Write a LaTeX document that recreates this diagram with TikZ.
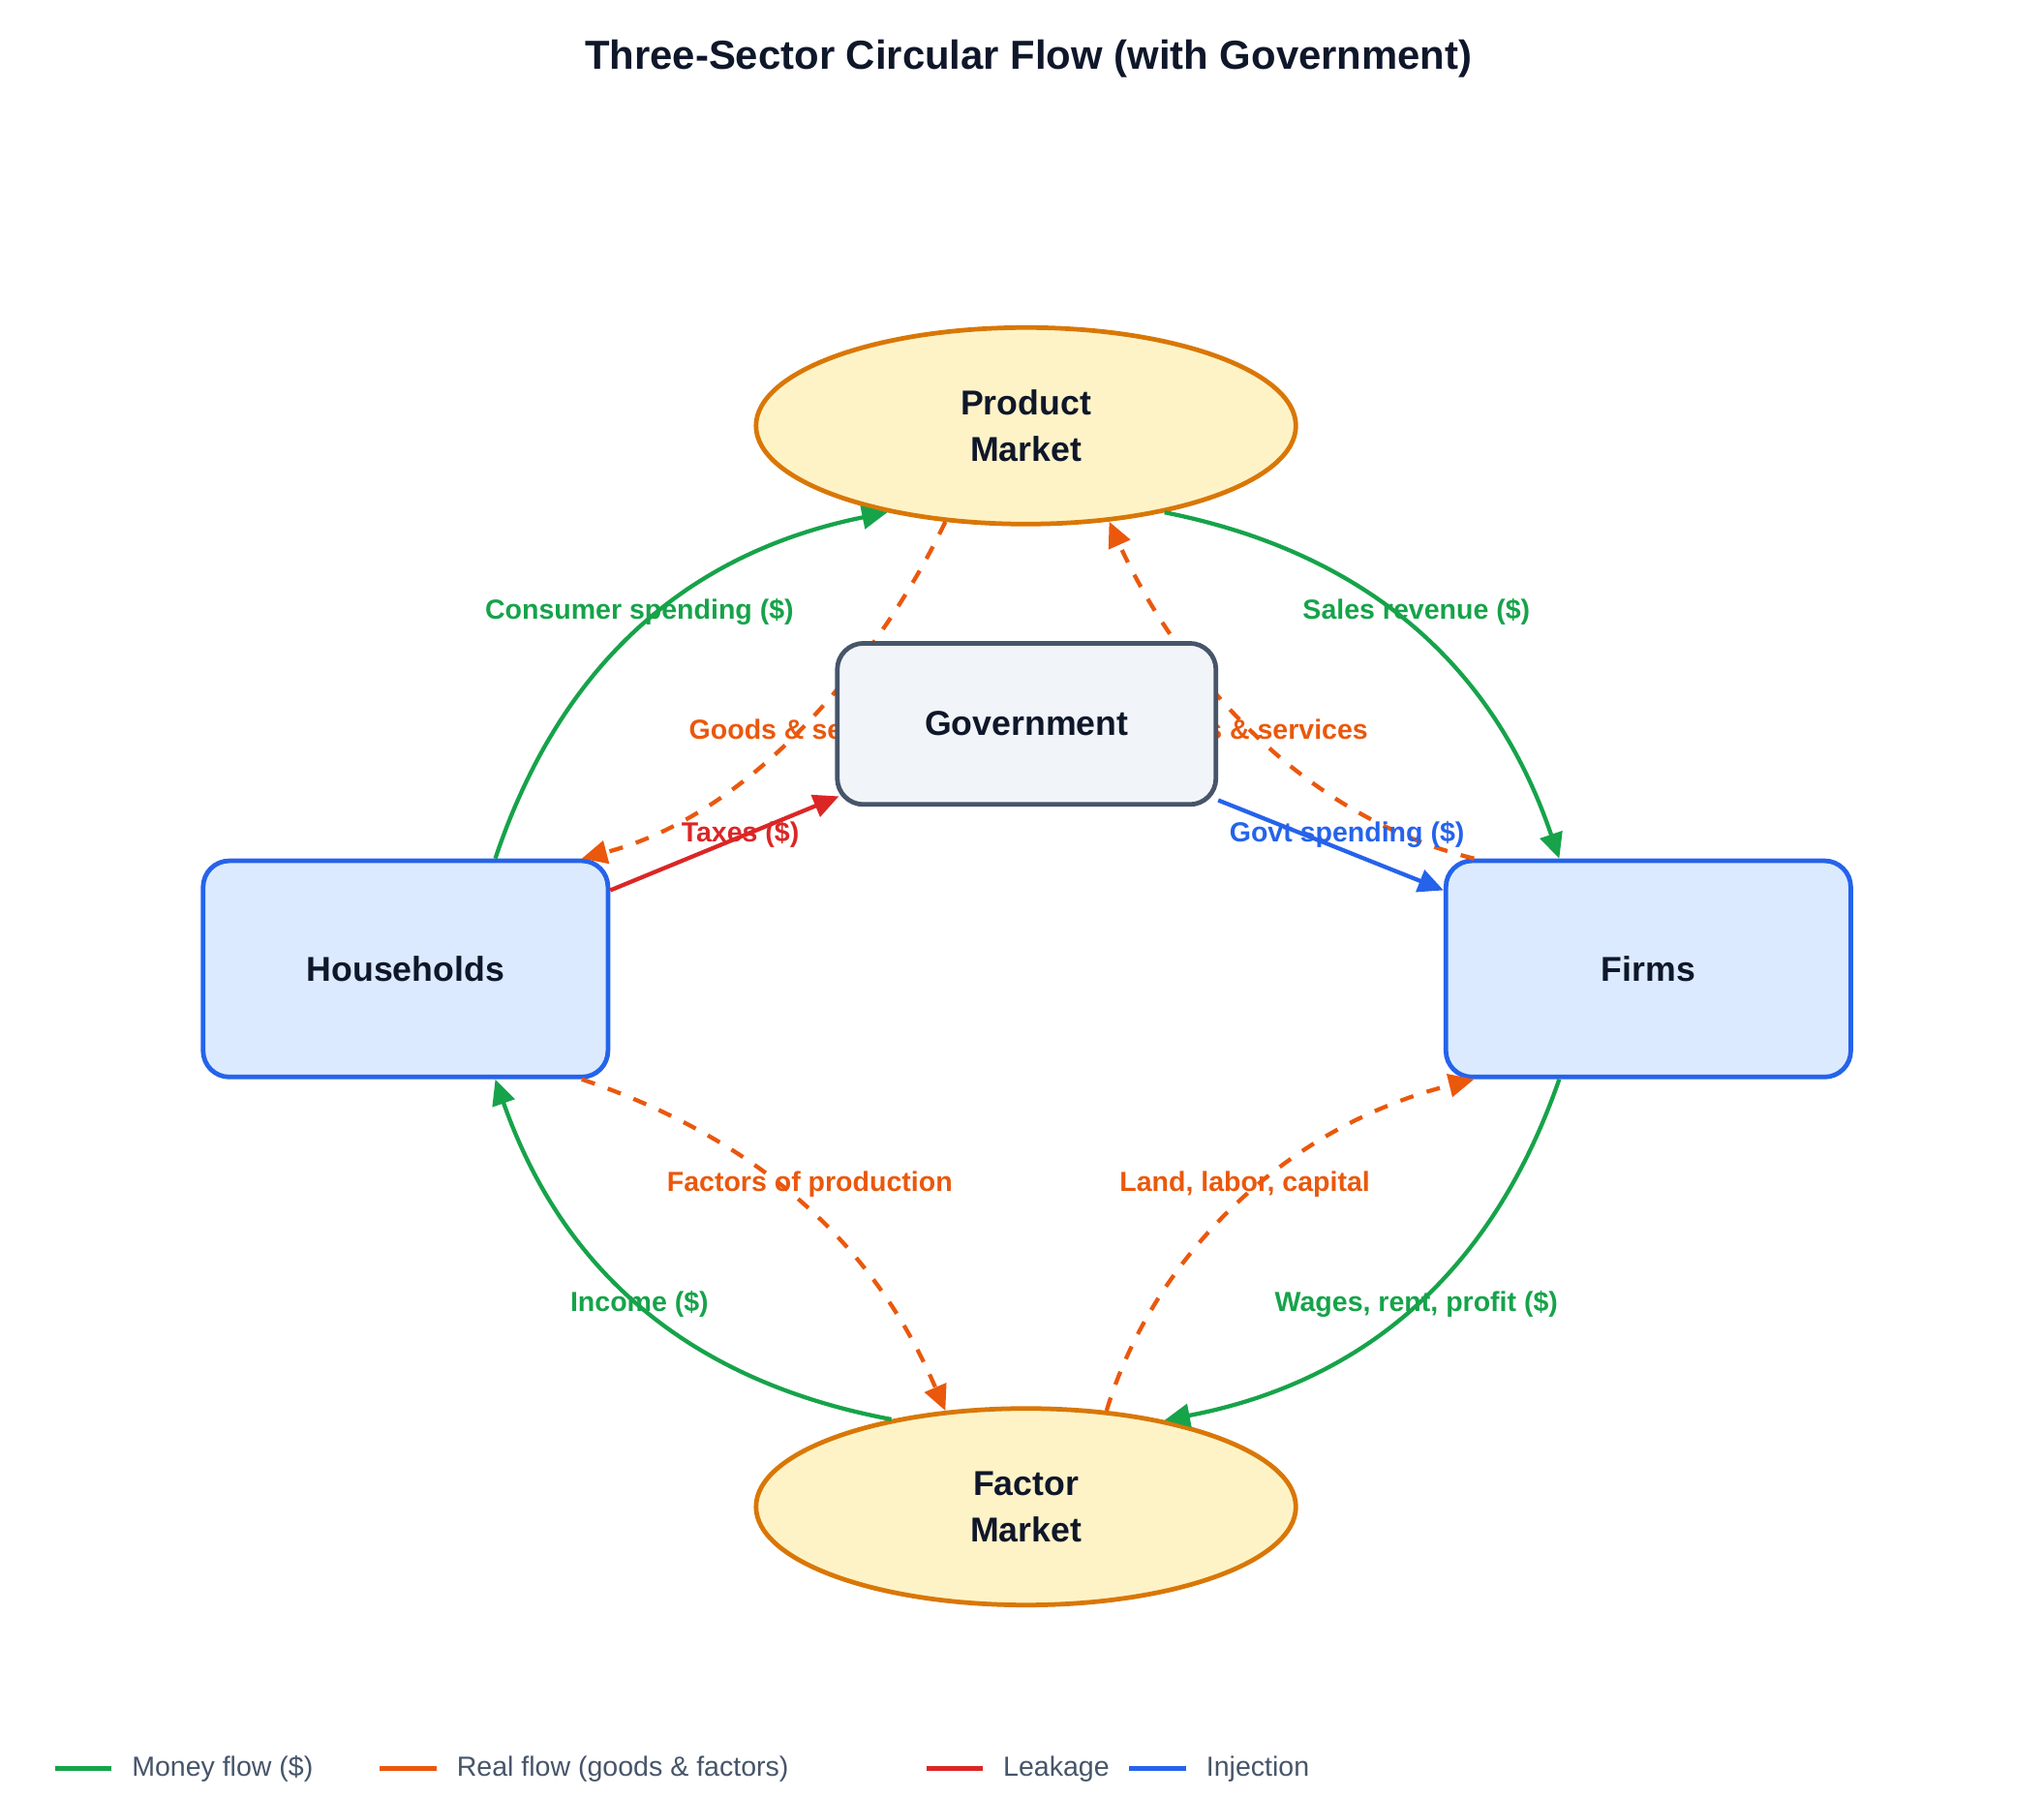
\documentclass[tikz,border=0pt]{standalone}
\usepackage{fontspec}
\setmainfont{Liberation Sans}
\usetikzlibrary{arrows.meta,shapes.geometric}
\definecolor{money}{HTML}{16A34A}
\definecolor{real}{HTML}{EA580C}
\definecolor{leak}{HTML}{DC2626}
\definecolor{inject}{HTML}{2563EB}
\definecolor{ink}{HTML}{0F172A}
\definecolor{legendink}{HTML}{475569}
\definecolor{sectorfill}{HTML}{DBEAFE}
\definecolor{marketfill}{HTML}{FEF3C7}
\definecolor{marketline}{HTML}{D97706}
\definecolor{govfill}{HTML}{F1F5F9}
\tikzset{
  sector/.style={draw=inject,line width=1pt,fill=sectorfill,rounded corners=0.2cm,
    minimum width=3.09cm,minimum height=1.65cm,font=\fontsize{7.5}{9}\selectfont\bfseries,text=ink},
  market/.style={ellipse,draw=marketline,line width=1pt,fill=marketfill,
    minimum width=4.12cm,minimum height=1.5cm,align=center,
    font=\fontsize{7.5}{10}\selectfont\bfseries,text=ink},
  flow/.style={line width=0.9pt,-{Triangle[width=5pt,length=5.5pt]}},
  lbl/.style={font=\fontsize{6}{7}\selectfont\bfseries}
}
\begin{document}
\begin{tikzpicture}
  \useasboundingbox (0,0) rectangle (15.6,-13.72);
  \node[font=\fontsize{8.8}{10}\selectfont\bfseries,text=ink] (title) at (7.85,-0.45) {Three-Sector Circular Flow (with Government)};

  \node[market] (pm) at (7.83,-3.25) {Product\\Market};
  \node[market] (fm) at (7.83,-11.5) {Factor\\Market};
  \node[sector] (hh) at (3.095,-7.395) {Households};
  \node[sector] (firms) at (12.58,-7.395) {Firms};

  % money flows
  \draw[flow,money] ([xshift=0.685cm]hh.north) to[bend left=30] (pm.212);
  \draw[flow,money] (pm.-32) to[bend left=30] ([xshift=-0.68cm]firms.north);
  \draw[flow,money] ([xshift=-0.68cm]firms.south) to[bend left=30] (fm.32);
  \draw[flow,money] (fm.147) to[bend left=30] ([xshift=0.685cm]hh.south);

  % real flows
  \draw[flow,real,dashed] (pm.230) .. controls (6.75,-4.95) and (5.8,-6.2) .. ([xshift=1.345cm]hh.north);
  \draw[flow,real,dashed] ([xshift=-1.33cm]firms.north) .. controls (9.8,-6.2) and (8.9,-4.95) .. (pm.-49);
  \draw[flow,real,dashed] ([xshift=1.345cm]hh.south) .. controls (6.1,-8.8) and (6.8,-9.8) .. (fm.130);
  \draw[flow,real,dashed] (fm.50) .. controls (8.8,-9.6) and (9.8,-8.6) .. ([xshift=-1.33cm]firms.south);

  \node[lbl,text=real] (gs1) at (6.15,-5.57) {Goods \& services};
  \node[lbl,text=real] (gs2) at (9.55,-5.57) {Goods \& services};

  \node[draw=legendink,line width=1pt,fill=govfill,rounded corners=0.2cm,minimum width=2.89cm,
    minimum height=1.23cm,font=\fontsize{7.5}{9}\selectfont\bfseries,text=ink] (gov) at (7.835,-5.525) {Government};

  % leakage and injection
  \draw[flow,leak] ([yshift=0.6cm]hh.east) -- ([xshift=0.03cm,yshift=0.08cm]gov.south west);
  \draw[flow,inject] ([yshift=0.05cm]gov.south east) -- ([yshift=0.6cm]firms.west);

  \node[lbl,text=money] at (4.88,-4.67) {Consumer spending (\$)};
  \node[lbl,text=money] at (10.81,-4.67) {Sales revenue (\$)};
  \node[lbl,text=money] at (10.81,-9.95) {Wages, rent, profit (\$)};
  \node[lbl,text=money] at (4.88,-9.95) {Income (\$)};
  \node[lbl,text=real] at (6.18,-9.04) {Factors of production};
  \node[lbl,text=real] at (9.5,-9.04) {Land, labor, capital};
  \node[lbl,text=leak] at (5.65,-6.37) {Taxes (\$)};
  \node[lbl,text=inject] at (10.28,-6.37) {Govt spending (\$)};

  % legend
  \foreach \x/\c/\t in {0.42/money/Money flow (\$), 2.90/real/Real flow (goods \& factors),
      7.07/leak/Leakage, 8.62/inject/Injection}{
    \draw[\c,line width=1.1pt] (\x,-13.5) -- ++(0.43,0);
    \node[anchor=west,inner sep=0pt,text=legendink,font=\fontsize{6}{7}\selectfont] at (\x+0.58,-13.5) {\t};
  }
\end{tikzpicture}
\end{document}
